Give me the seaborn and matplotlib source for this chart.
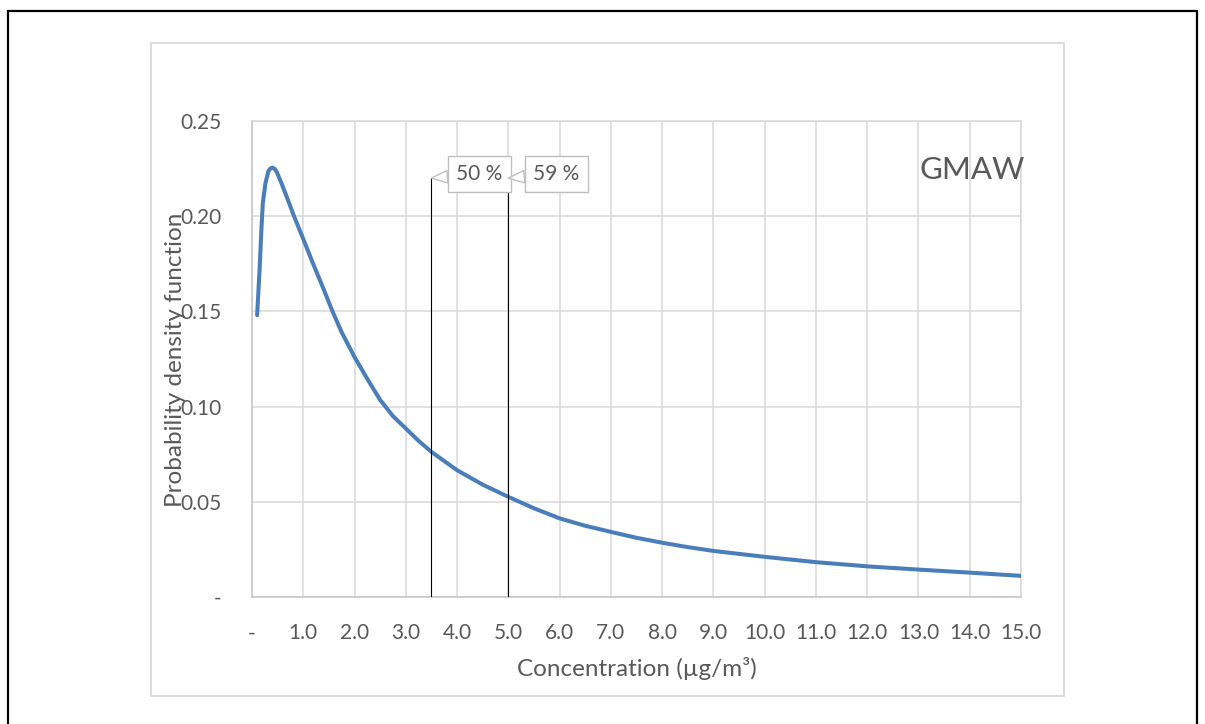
import matplotlib
matplotlib.use("Agg")
import matplotlib.pyplot as plt
import seaborn as sns
from matplotlib.patches import Rectangle

# ---- data ----
conc = [0.10, 0.15, 0.18, 0.21, 0.26, 0.32, 0.36, 0.40, 0.44, 0.48, 0.58, 0.68,
        0.82, 1.0, 1.2, 1.4, 1.57, 1.75, 2.0, 2.25, 2.5, 2.75, 3.0, 3.25, 3.5,
        4.0, 4.5, 5.0, 5.5, 6.0, 6.5, 7.0, 7.5, 8.0, 8.5, 9.0, 10.0, 11.0, 12.0,
        13.0, 14.0, 15.0]
pdf = [0.148, 0.173, 0.191, 0.2066, 0.217, 0.2237, 0.2251, 0.2255, 0.2249, 0.2234,
       0.217, 0.210, 0.200, 0.188, 0.1745, 0.1615, 0.150, 0.139, 0.126, 0.1145,
       0.1035, 0.0950, 0.0885, 0.0820, 0.0762, 0.0666, 0.0590, 0.0526, 0.0466,
       0.0413, 0.0374, 0.0342, 0.0311, 0.0285, 0.0262, 0.0242, 0.0211, 0.0183,
       0.0161, 0.0144, 0.0128, 0.0111]

marker_x = [3.5, 5.0]
marker_top = [0.22, 0.22]
marker_labels = ["50 %", "59 %"]

x_ticks = list(range(0, 16))
x_ticklabels = ["-"] + [f"{v:.1f}" for v in range(1, 16)]
y_ticks = [0.0, 0.05, 0.10, 0.15, 0.20, 0.25]
y_ticklabels = ["-", "0.05", "0.10", "0.15", "0.20", "0.25"]

title_text = "GMAW"
x_label = "Concentration (\u00b5g/m\u00b3)"
y_label = "Probability density function"

# ---- styling ----
sns.set_theme(style="white")
plt.rcParams["font.family"] = ["Lato", "DejaVu Sans"]
text_color = "#595959"
grid_color = "#d9d9d9"
line_color = "#4a7ebb"

W, H = 1205, 724
fig = plt.figure(figsize=(W / 100, H / 100), dpi=100)
ax = fig.add_axes([252 / W, 1 - 597 / H, (1021 - 252) / W, (597 - 121) / H])

sns.lineplot(x=conc, y=pdf, ax=ax, color=line_color, linewidth=2.9, zorder=3)

for xv, yt in zip(marker_x, marker_top):
    ax.plot([xv, xv], [0, yt], color="black", linewidth=0.8, zorder=4)

for xv, yt, lab in zip(marker_x, marker_top, marker_labels):
    ax.annotate(lab, xy=(xv, yt), xytext=(34.5, 3), textcoords="offset points",
                ha="center", va="center", fontsize=15, color=text_color, zorder=6,
                bbox=dict(boxstyle="square,pad=0.4", fc="white", ec="#bfbfbf", lw=1.0),
                arrowprops=dict(arrowstyle="wedge,tail_width=0.6,shrink_factor=0.5",
                                fc="white", ec="#bfbfbf", lw=1.0, shrinkA=0, shrinkB=0))

ax.set_xlim(0, 15)
ax.set_ylim(0, 0.25)
ax.set_xticks(x_ticks)
ax.set_xticklabels(x_ticklabels)
ax.set_yticks(y_ticks)
ax.set_yticklabels(y_ticklabels)
ax.tick_params(axis="both", length=0, labelsize=15, colors=text_color)
ax.tick_params(axis="x", pad=19)
ax.tick_params(axis="y", pad=22)
ax.grid(True, color=grid_color, linewidth=1.1, zorder=0)
ax.set_axisbelow(True)
for side in ["top", "right"]:
    ax.spines[side].set_color(grid_color)
    ax.spines[side].set_linewidth(1.1)
for side in ["left", "bottom"]:
    ax.spines[side].set_color("#c4c4c4")
    ax.spines[side].set_linewidth(1.1)

ax.set_xlabel(x_label, fontsize=17.5, color=text_color, labelpad=10)
fig.text(175 / W, 1 - 360 / H, y_label, rotation=90, ha="center", va="center",
         fontsize=17.5, color=text_color)

ax.text(0.868, 0.897, title_text, transform=ax.transAxes, ha="left", va="center",
        fontsize=22.5, color=text_color)

# chart area box and outer frame
fig.patches.append(Rectangle((150.7 / W, 1 - 696 / H), (1063.7 - 150.7) / W, (696 - 42.7) / H,
                             transform=fig.transFigure, fill=False, ec=grid_color, lw=1.3))
fig.patches.append(Rectangle((8 / W, -0.05), (1197 - 8) / W, 1 - 10.7 / H + 0.05,
                             transform=fig.transFigure, fill=False, ec="black", lw=1.6,
                             clip_on=False))

fig.savefig("out.png", dpi=100)
